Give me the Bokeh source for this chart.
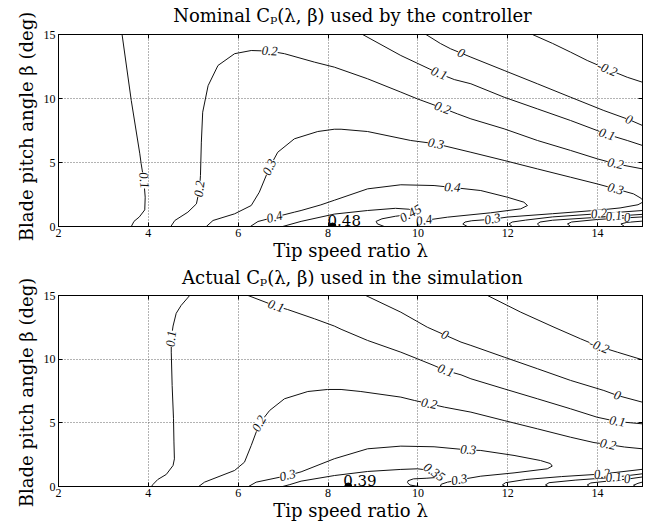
import math
from bokeh.plotting import figure
from bokeh.layouts import column, row
from bokeh.models import FixedTicker, LinearAxis, Range1d
from bokeh.embed import file_html
from bokeh.resources import INLINE
from bokeh.core.properties import value

FONT = "DejaVu Serif"
SMALL_FONT = "Liberation Serif"

# ---------------- data ----------------
x_ticks = [2, 4, 6, 8, 10, 12, 14]
y_ticks = [0, 5, 10, 15]

# ---- Nominal Cp (used by the controller): contour polylines (lambda, beta) ----
nom_010a_lam = [3.415, 3.62, 3.81, 3.84, 3.9, 3.93, 3.92, 3.8, 3.68, 3.62]
nom_010a_beta = [15.0, 9.84, 5.68, 4.9, 3.6, 2.29, 1.3, 0.75, 0.4, 0.0]
nom_020a_lam = [4.50, 4.59, 4.88, 5.07, 5.14, 5.16, 5.18, 5.21, 5.33, 5.55, 5.92, 6.29, 6.70, 7.03, 7.70, 8.14,
                8.88, 9.62, 9.99, 10.55, 10.88, 11.18, 11.92, 12.66, 13.4, 13.99, 14.4, 15.0]
nom_020a_beta = [0.0, 0.47, 1.12, 1.77, 2.94, 3.98, 6.59, 8.93, 11.0, 12.58, 13.5, 13.75, 13.7, 13.5, 12.84, 12.45,
                 11.54, 10.5, 9.97, 9.25, 8.8, 8.41, 7.63, 6.72, 5.94, 5.29, 4.9, 4.5]
nom_030_lam = [5.29, 5.44, 5.92, 6.29, 6.47, 6.70, 6.88, 7.25, 7.77, 8.14, 8.29, 8.88, 9.84, 10.4, 11.18, 11.92,
               12.66, 13.4, 13.99, 14.4, 14.8, 14.97, 15.03, 14.9, 14.5, 14.0, 13.0, 12.0, 11.66, 11.2, 11.05,
               11.0, 11.1]
nom_030_beta = [0.0, 0.47, 0.99, 1.64, 2.68, 4.63, 5.8, 6.85, 7.42, 7.6, 7.6, 7.42, 6.72, 6.46, 5.8, 5.16,
                4.5, 3.85, 3.33, 2.94, 2.55, 2.2, 1.95, 1.7, 1.45, 1.27, 1.0, 0.74, 0.57, 0.45, 0.35,
                0.2, 0.0]
nom_040_lam = [6.27, 6.44, 6.81, 7.25, 7.4, 7.84, 8.14, 8.88, 9.62, 10.36, 10.77, 11.4, 11.99, 12.36, 12.44,
               12.29, 11.62, 10.66, 10.14, 10.0, 9.98, 10.02]
nom_040_beta = [0.0, 0.39, 0.73, 1.12, 1.25, 1.69, 2.05, 2.94, 3.26, 3.2, 3.05, 2.81, 2.29, 1.9, 1.64,
                1.38, 1.07, 0.73, 0.47, 0.25, 0.1, 0.0]
nom_045_lam = [6.99, 7.4, 8.14, 8.88, 9.5, 9.8, 9.95, 9.85, 9.5, 9.2, 9.07, 9.1, 9.2, 9.25]
nom_045_beta = [0.0, 0.4, 0.97, 1.25, 1.42, 1.35, 1.15, 0.95, 0.8, 0.6, 0.4, 0.2, 0.07, 0.0]
nom_010b_lam = [8.77, 9.62, 10.25, 10.47, 10.81, 11.18, 11.92, 12.66, 13.4, 13.99, 14.21, 14.66, 15.0]
nom_010b_beta = [15.0, 13.36, 12.32, 11.95, 11.48, 11.15, 10.1, 9.19, 8.28, 7.5, 7.2, 6.72, 6.33]
nom_000a_lam = [10.18, 10.5, 10.73, 10.96, 11.18, 11.92, 12.66, 13.4, 14.14, 14.70, 15.0]
nom_000a_beta = [15.0, 14.3, 13.88, 13.55, 13.23, 12.19, 11.15, 10.1, 9.06, 8.35, 7.89]
nom_m020a_lam = [12.55, 13.0, 13.4, 13.77, 14.21, 14.66, 15.0]
nom_m020a_beta = [15.0, 14.3, 13.62, 12.97, 12.3, 11.66, 11.27]
nom_020b_lam = [12.1, 12.03, 12.1, 12.4, 13.0, 14.03, 15.0]
nom_020b_beta = [0.0, 0.2, 0.35, 0.5, 0.75, 1.0, 1.25]
nom_010c_lam = [12.72, 12.66, 12.72, 13.0, 14.0, 14.36, 15.0]
nom_010c_beta = [0.0, 0.2, 0.35, 0.49, 0.72, 0.8, 0.95]
nom_000b_lam = [13.4, 13.33, 13.42, 14.0, 14.66, 15.0]
nom_000b_beta = [0.0, 0.2, 0.35, 0.55, 0.68, 0.75]
nom_m020b_lam = [14.6, 14.52, 14.65, 15.0]
nom_m020b_beta = [0.0, 0.2, 0.32, 0.42]

nom_lab_lam = [3.9, 5.14, 6.70, 10.55, 14.4, 6.70, 10.4, 14.4, 11.66, 6.81, 10.77, 10.14, 9.84,
               10.47, 14.21, 10.96, 14.70, 14.21, 14.03, 14.36, 14.66]
nom_lab_beta = [3.6, 2.94, 13.7, 9.25, 4.9, 4.63, 6.46, 2.94, 0.57, 0.73, 3.05, 0.47, 1.0,
                11.95, 7.2, 13.55, 8.35, 12.3, 1.0, 0.8, 0.68]
nom_lab_text = ["0.1", "0.2", "0.2", "0.2", "0.2", "0.3", "0.3", "0.3", "0.3", "0.4", "0.4", "0.4", "0.45",
                "0.1", "0.1", "0", "0", "-0.2", "0.2", "0.1", "0"]
nom_lab_angle = [-83, 82, -2, -20, -12, 65, -10, -15, 10, 14, -4, 10, 30,
                 -23, -18, -24, -21, -23, 5, 5, 5]
nom_opt_lam = [8.1]
nom_opt_beta = [0.0]
nom_opt_text = ["0.48"]

# ---- Actual Cp (used in the simulation) ----
act_010a_lam = [4.07, 4.1, 4.21, 4.4, 4.55, 4.58, 4.57, 4.56, 4.53, 4.51, 4.51, 4.55, 4.62, 4.73, 4.92]
act_010a_beta = [0.0, 0.15, 0.55, 0.95, 1.65, 2.17, 3.5, 5.32, 7.93, 10.55, 11.6, 12.6, 13.6, 14.22, 15.0]
act_010b_lam = [6.22, 6.84, 7.10, 7.70, 8.14, 8.29, 8.88, 9.62, 9.99, 10.36, 10.62, 10.96, 11.18, 11.92,
                12.66, 13.4, 13.99, 14.44, 15.0]
act_010b_beta = [15.0, 14.16, 13.9, 13.17, 12.6, 12.35, 11.47, 10.55, 10.03, 9.5, 9.1, 8.77, 8.46, 7.67,
                 6.89, 6.1, 5.44, 5.1, 4.92]
act_000a_lam = [8.84, 9.62, 10.21, 10.6, 10.96, 11.18, 11.92, 12.66, 13.4, 14.14, 14.44, 15.0]
act_000a_beta = [15.0, 13.69, 12.51, 11.9, 11.34, 11.08, 10.16, 9.25, 8.33, 7.54, 7.15, 6.62]
act_m020a_lam = [11.55, 12.29, 13.03, 13.62, 14.03, 14.44, 15.0]
act_m020a_beta = [15.0, 13.69, 12.51, 11.6, 11.0, 10.55, 9.95]
act_020a_lam = [5.12, 5.25, 5.92, 6.14, 6.29, 6.47, 6.70, 7.03, 7.55, 7.99, 8.29, 8.73, 9.62, 9.92, 10.25,
                10.59, 11.18, 11.92, 12.66, 13.4, 13.92, 14.23, 14.6, 15.0]
act_020a_beta = [0.0, 0.34, 1.26, 1.91, 3.22, 4.93, 5.97, 6.89, 7.46, 7.62, 7.62, 7.46, 7.02, 6.76, 6.5,
                 6.23, 5.84, 5.18, 4.53, 3.87, 3.45, 3.3, 3.1, 2.96]
act_030_lam = [6.23, 6.4, 7.10, 7.4, 8.14, 8.88, 9.62, 10.36, 11.12, 11.4, 12.14, 12.73, 12.95, 12.99,
               12.88, 12.14, 11.4, 10.92, 10.66, 10.52, 10.5, 10.55]
act_030_beta = [0.0, 0.34, 0.86, 1.15, 2.18, 2.96, 3.17, 3.12, 2.87, 2.83, 2.44, 2.04, 1.8, 1.6,
                1.39, 1.07, 0.81, 0.52, 0.34, 0.18, 0.05, 0.0]
act_035_lam = [6.99, 7.15, 7.4, 8.14, 8.88, 9.62, 9.99, 10.2, 10.36, 10.5, 10.45, 10.2, 9.9, 9.78, 9.77,
               9.82, 9.95, 10.05]
act_035_beta = [0.0, 0.15, 0.42, 0.86, 1.18, 1.34, 1.39, 1.3, 1.12, 0.9, 0.72, 0.65, 0.6, 0.45, 0.3,
                0.12, 0.04, 0.0]
act_020b_lam = [11.95, 11.88, 11.95, 12.4, 13.2, 14.1, 15.0]
act_020b_beta = [0.0, 0.12, 0.3, 0.55, 0.78, 0.98, 1.35]
act_010c_lam = [12.9, 12.84, 12.92, 13.5, 14.36, 15.0]
act_010c_beta = [0.0, 0.12, 0.3, 0.5, 0.72, 1.0]
act_000b_lam = [13.82, 13.77, 13.85, 14.3, 14.66, 15.0]
act_000b_beta = [0.0, 0.12, 0.28, 0.45, 0.58, 0.75]
act_m020b_lam = [14.85, 14.8, 14.9, 15.0]
act_m020b_beta = [0.0, 0.1, 0.25, 0.35]

act_lab_lam = [4.51, 6.84, 10.62, 14.44, 10.6, 14.44, 14.03, 6.47, 10.25, 14.23, 7.10, 11.12, 10.92,
               10.36, 14.1, 14.36, 14.66]
act_lab_beta = [11.6, 14.16, 9.1, 5.1, 11.9, 7.15, 11.0, 4.93, 6.5, 3.3, 0.86, 2.87, 0.52,
                1.12, 0.98, 0.72, 0.6]
act_lab_text = ["0.1", "0.1", "0.1", "0.1", "0", "0", "-0.2", "0.2", "0.2", "0.2", "0.3", "0.3", "0.3",
                "0.35", "0.2", "0.1", "0"]
act_lab_angle = [85, -19, -20, -10, -24, -18, -22, 62, -10, -12, 12, -3, 10,
                 -35, 5, 5, 5]
act_opt_lam = [8.45]
act_opt_beta = [0.0]
act_opt_text = ["0.39"]

titles = ["Nominal C\u209a(\u03bb, \u03b2) used by the controller",
          "Actual C\u209a(\u03bb, \u03b2) used in the simulation"]
x_label = "Tip speed ratio \u03bb"
y_label = "Blade pitch angle \u03b2 (deg)"

nom_lines = [(nom_010a_lam, nom_010a_beta), (nom_020a_lam, nom_020a_beta), (nom_030_lam, nom_030_beta),
             (nom_040_lam, nom_040_beta), (nom_045_lam, nom_045_beta), (nom_010b_lam, nom_010b_beta),
             (nom_000a_lam, nom_000a_beta), (nom_m020a_lam, nom_m020a_beta), (nom_020b_lam, nom_020b_beta),
             (nom_010c_lam, nom_010c_beta), (nom_000b_lam, nom_000b_beta), (nom_m020b_lam, nom_m020b_beta)]
act_lines = [(act_010a_lam, act_010a_beta), (act_010b_lam, act_010b_beta), (act_000a_lam, act_000a_beta),
             (act_m020a_lam, act_m020a_beta), (act_020a_lam, act_020a_beta), (act_030_lam, act_030_beta),
             (act_035_lam, act_035_beta), (act_020b_lam, act_020b_beta), (act_010c_lam, act_010c_beta),
             (act_000b_lam, act_000b_beta), (act_m020b_lam, act_m020b_beta)]

STRIP_W = 40          # width of the strip that carries the rotated y-axis title
MAIN_W = 655 - STRIP_W


def text_strip(text, width, height, cx, cy_from_top, angle_deg):
    # a blank figure whose frame is the whole strip: data units equal pixels
    t = figure(width=width, height=height, x_range=Range1d(0, width), y_range=Range1d(0, height),
               output_backend="svg", toolbar_location=None, x_axis_type=None, y_axis_type=None,
               min_border=0)
    t.outline_line_color = None
    t.background_fill_color = "white"
    t.border_fill_color = "white"
    t.text(x=[cx], y=[height - cy_from_top], text=[text], angle=[math.radians(angle_deg)],
           text_align="center", text_baseline="middle", text_font=value(FONT), text_font_size="18px",
           text_color="black")
    return t


def make_panel(lines, lab_lam, lab_beta, lab_text, lab_angle, opt_lam, opt_beta, opt_text,
               height, top, bottom):
    p = figure(width=MAIN_W, height=height, x_range=Range1d(2, 15), y_range=Range1d(0, 15),
               output_backend="svg", toolbar_location=None,
               min_border_left=57 - STRIP_W, min_border_right=13, min_border_top=top, min_border_bottom=bottom)
    p.background_fill_color = "white"
    p.border_fill_color = "white"
    p.outline_line_color = "black"
    p.outline_line_width = 1

    p.xaxis.ticker = FixedTicker(ticks=x_ticks)
    p.yaxis.ticker = FixedTicker(ticks=y_ticks)
    for ax in (p.xaxis[0], p.yaxis[0]):
        ax.major_tick_in = 4
        ax.major_tick_out = 0
        ax.minor_tick_line_color = None
        ax.axis_line_color = "black"
        ax.major_tick_line_color = "black"
        ax.major_label_text_font = SMALL_FONT
        ax.major_label_text_font_size = "12px"
        ax.major_label_text_color = "black"
        ax.axis_label_text_font = FONT
        ax.axis_label_text_font_size = "18px"
        ax.axis_label_text_font_style = "normal"
        ax.axis_label_text_color = "black"
        ax.major_label_standoff = 3
    p.xaxis.major_label_standoff = 2
    p.xaxis.axis_label_standoff = 0
    p.xaxis.axis_label = x_label

    # mirrored ticks on top and right
    for tk, side in ((x_ticks, "above"), (y_ticks, "right")):
        ax = LinearAxis(ticker=FixedTicker(ticks=tk), major_label_overrides={t: "" for t in tk})
        ax.major_tick_in = 4
        ax.major_tick_out = 0
        ax.minor_tick_line_color = None
        ax.major_label_standoff = 0
        ax.major_label_text_font_size = "1px"
        ax.axis_line_color = "black"
        p.add_layout(ax, side)

    p.xgrid.ticker = FixedTicker(ticks=x_ticks)
    p.ygrid.ticker = FixedTicker(ticks=y_ticks)
    for g in (p.xgrid[0], p.ygrid[0]):
        g.grid_line_color = "#666666"
        g.grid_line_dash = "1 2"
        g.grid_line_width = 1

    for lam, beta in lines:
        p.line(lam, beta, line_color="#111111", line_width=1)

    p.text(x=lab_lam, y=lab_beta, text=lab_text, angle=[math.radians(a) for a in lab_angle],
           text_align="center", text_baseline="middle", text_font=value(SMALL_FONT),
           text_font_style="italic", text_font_size="13px", text_color="#111111",
           background_fill_color="white")

    p.scatter(opt_lam, opt_beta, size=7, color="black")
    p.text(x=opt_lam, y=[b + 0.5 for b in opt_beta], text=opt_text, x_offset=-5,
           text_align="left", text_baseline="middle", text_font=value(FONT),
           text_font_size="15px", text_color="black")
    return p


# top panel (265 px tall in total, frame from y=34 to y=226)
yl1 = text_strip(y_label, STRIP_W, 265, 26, 126, 90)
t1 = text_strip(titles[0], MAIN_W, 26, 349.5 - STRIP_W, 14.5, 0)
p1 = make_panel(nom_lines, nom_lab_lam, nom_lab_beta, nom_lab_text, nom_lab_angle,
                nom_opt_lam, nom_opt_beta, nom_opt_text, 239, 8, 39)
# bottom panel (264 px tall in total, frame from y=295 to y=486)
yl2 = text_strip(y_label, STRIP_W, 264, 26, 127, 90)
t2 = text_strip(titles[1], MAIN_W, 22, 349.5 - STRIP_W, 11.5, 0)
p2 = make_panel(act_lines, act_lab_lam, act_lab_beta, act_lab_text, act_lab_angle,
                act_opt_lam, act_opt_beta, act_opt_text, 242, 8, 43)

layout = column(row(yl1, column(t1, p1, spacing=0), spacing=0),
                row(yl2, column(t2, p2, spacing=0), spacing=0), spacing=0)
open("out.html", "w").write(file_html(layout, INLINE))
